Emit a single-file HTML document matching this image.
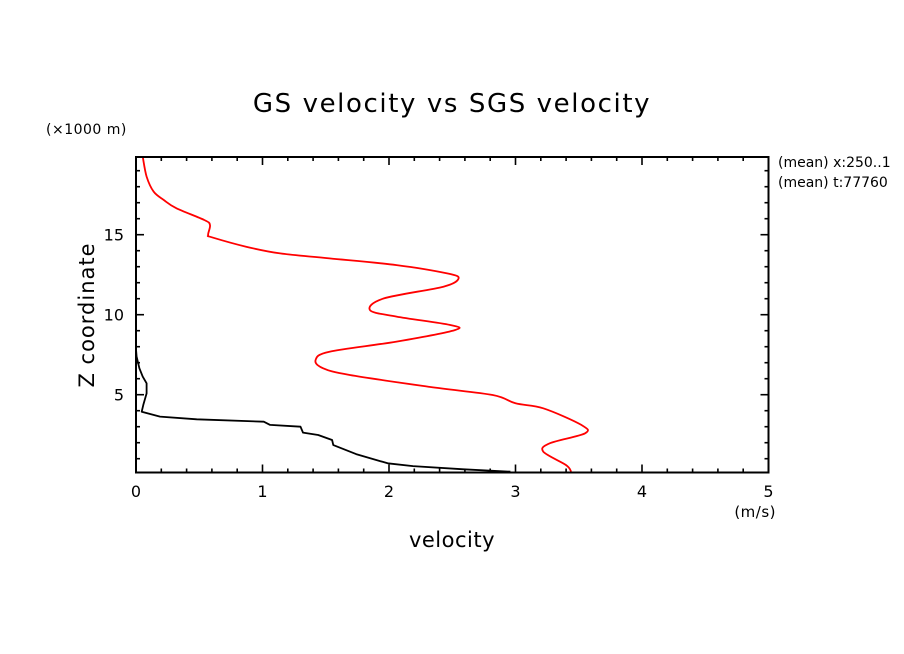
<!DOCTYPE html>
<html><head><meta charset="utf-8"><style>
html,body{margin:0;padding:0;background:#fff;}
svg{display:block;font-family:"DejaVu Sans","Liberation Sans",sans-serif;}
</style></head><body>
<svg id="chart" width="904" height="654" viewBox="0 0 904 654" xmlns="http://www.w3.org/2000/svg">
<rect width="904" height="654" fill="#fff"/>
<text x="452" y="112" font-size="26" letter-spacing="1.6" text-anchor="middle">GS velocity vs SGS velocity</text>
<text x="46" y="134" font-size="14" letter-spacing="0.5">(×1000 m)</text>
<text transform="translate(94,315) rotate(-90)" font-size="21" letter-spacing="1" text-anchor="middle">Z coordinate</text>
<text x="452" y="547" font-size="21" letter-spacing="0.5" text-anchor="middle">velocity</text>
<text x="776" y="517" font-size="15" letter-spacing="0.5" text-anchor="end">(m/s)</text>
<text x="778" y="167" font-size="14">(mean) x:250..1</text>
<text x="778" y="187" font-size="14">(mean) t:77760</text>
<g id="ticks"></g>
<g id="series"></g>
<rect x="136" y="157" width="632.5" height="315.5" fill="none" stroke="#000" stroke-width="2"/>
</svg>
<script>
const xTicks=[0,1,2,3,4,5];
const yTicks=[5,10,15];
const redZ=[0.19,0.6,1.44,1.96,2.59,3.11,4.15,4.46,4.98,5.49,6.23,6.65,7.17,7.69,8.32,9.04,9.36,9.88,10.29,11.02,11.75,12.27,12.58,13.1,13.52,13.83,14.25,14.84,14.98,15.6,15.92,16.65,17.17,17.69,18.63,19.88];
const redV=[3.44,3.40,3.22,3.27,3.55,3.52,3.22,3.00,2.82,2.32,1.69,1.48,1.42,1.53,2.06,2.52,2.48,2.06,1.85,1.96,2.43,2.55,2.46,2.06,1.53,1.14,0.87,0.60,0.57,0.585,0.54,0.32,0.22,0.14,0.084,0.053];
const blackZ=[0.19,0.34,0.54,0.71,1.29,1.85,2.17,2.48,2.63,3.0,3.11,3.31,3.46,3.63,3.94,4.36,5.08,5.71,6.13,6.65,7.38,7.84];
const blackV=[2.96,2.59,2.19,1.99,1.74,1.56,1.55,1.44,1.32,1.30,1.06,1.01,0.48,0.19,0.045,0.058,0.084,0.084,0.053,0.027,0.005,0.0];
const X0=136,XS=126.5,Y0=474.7,YS=16,TOP=157,BOT=472.5,RIGHT=768.5;
function xs(v){return X0+v*XS;}
function ys(v){return Y0-v*YS;}
const NS='http://www.w3.org/2000/svg';
const tg=document.getElementById('ticks');
function line(x1,y1,x2,y2,name){const l=document.createElementNS(NS,'line');l.setAttribute('x1',x1);l.setAttribute('y1',y1);l.setAttribute('x2',x2);l.setAttribute('y2',y2);l.setAttribute('stroke','#000');l.setAttribute('stroke-width','1.6');


tg.appendChild(l);}
function txt(x,y,s,name,anchor){const t=document.createElementNS(NS,'text');t.setAttribute('x',x);t.setAttribute('y',y);t.setAttribute('font-size','16');t.setAttribute('text-anchor',anchor);t.textContent=s;


tg.appendChild(t);}
for(let i=0;i<=25;i++){const v=i*0.2,x=xs(v),L=(i%5===0)?8:4;line(x,BOT,x,BOT-L,'x-tick');line(x,TOP,x,TOP+L,'x-tick');}
xTicks.forEach(v=>txt(xs(v),497,String(v),'x-tick-label','middle'));
for(let v=1;v<=19;v++){const y=ys(v),L=(v%5===0)?8:4;line(X0,y,X0+L,y,'y-tick');line(RIGHT,y,RIGHT-L,y,'y-tick');}
yTicks.forEach(v=>txt(124,ys(v)+6,String(v),'y-tick-label','end'));
const sg=document.getElementById('series');
function path(V,Z,color,name,smooth){const P=V.map((v,i)=>[xs(v),ys(Z[i])]);let d='M'+P[0][0].toFixed(1)+' '+P[0][1].toFixed(1);
for(let i=0;i<P.length-1;i++){if(!smooth){d+='L'+P[i+1][0].toFixed(1)+' '+P[i+1][1].toFixed(1);continue;}
const p0=P[Math.max(0,i-1)],p1=P[i],p2=P[i+1],p3=P[Math.min(P.length-1,i+2)];
const c1=[p1[0]+(p2[0]-p0[0])/6,p1[1]+(p2[1]-p0[1])/6],c2=[p2[0]-(p3[0]-p1[0])/6,p2[1]-(p3[1]-p1[1])/6];
d+='C'+c1[0].toFixed(1)+' '+c1[1].toFixed(1)+' '+c2[0].toFixed(1)+' '+c2[1].toFixed(1)+' '+p2[0].toFixed(1)+' '+p2[1].toFixed(1);}
const p=document.createElementNS(NS,'path');p.setAttribute('d',d);p.setAttribute('fill','none');p.setAttribute('stroke',color);p.setAttribute('stroke-width','1.8');p.setAttribute('stroke-linejoin','round');


sg.appendChild(p);}
path(redV,redZ,'#ff0000','sgs-velocity-line',true);
path(blackV,blackZ,'#000000','gs-velocity-line',false);
</script>
</body></html>
